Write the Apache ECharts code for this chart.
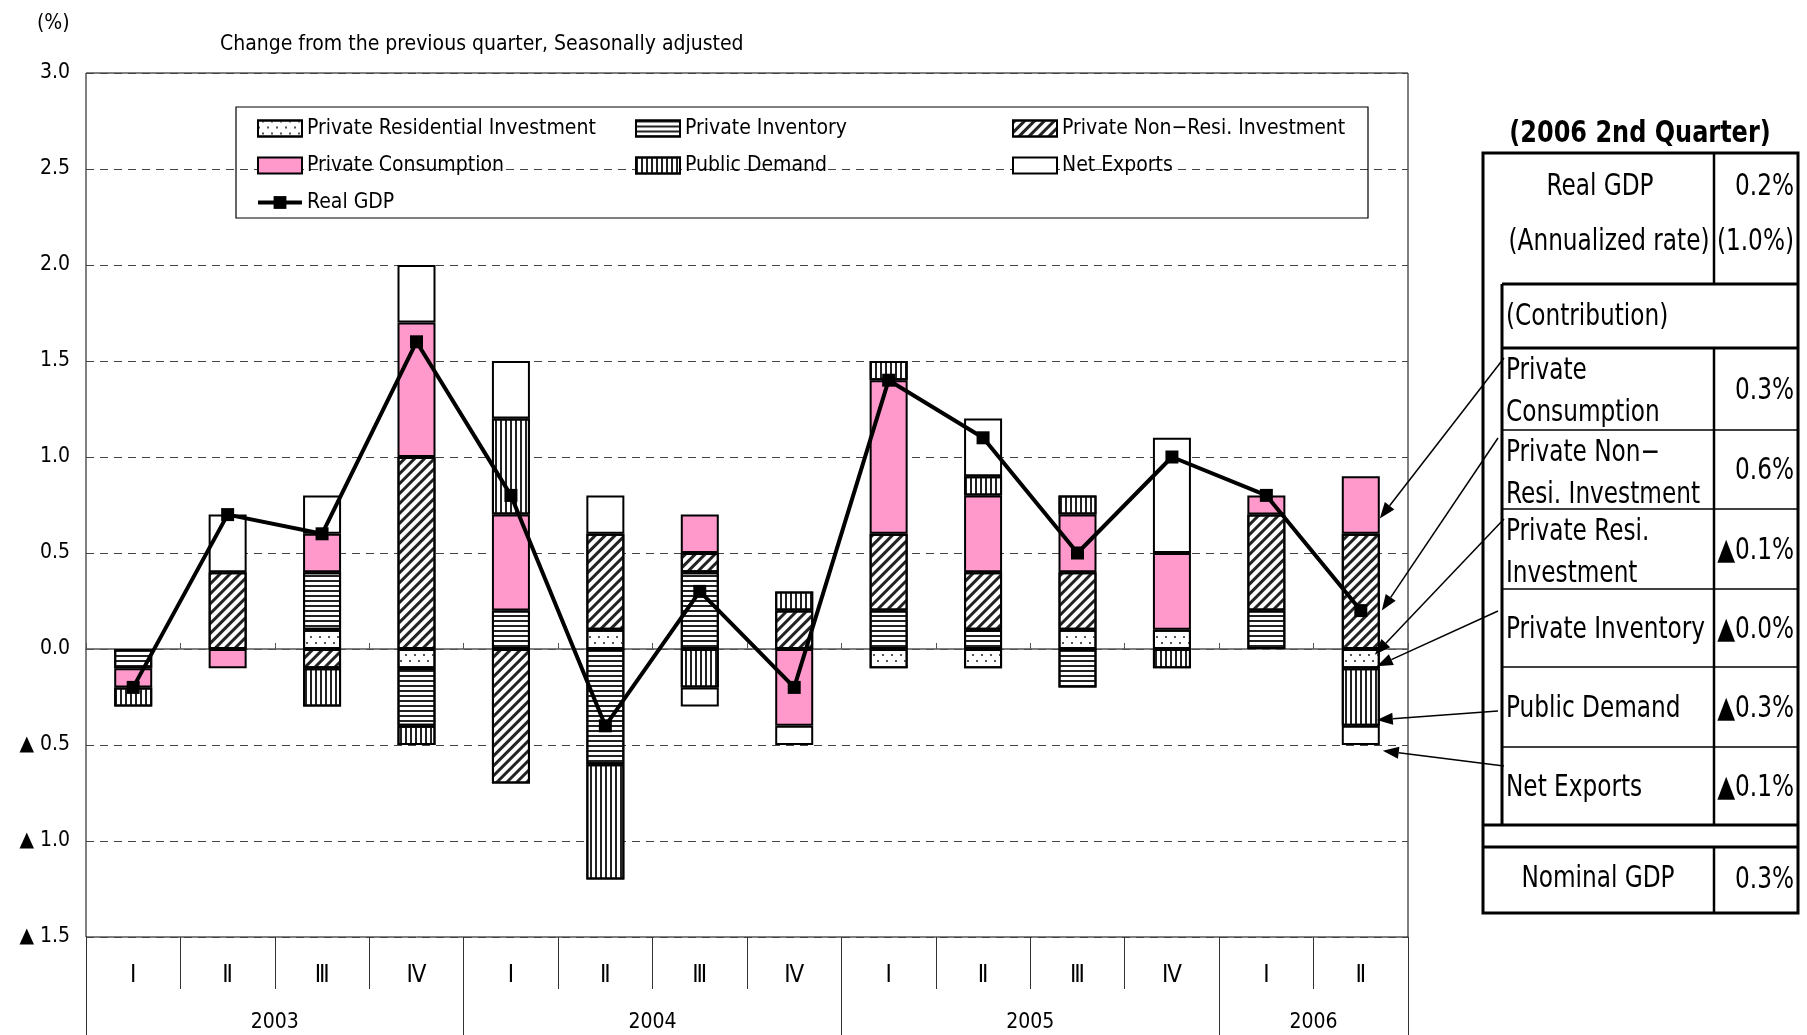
<!DOCTYPE html>
<html>
<head>
<meta charset="utf-8">
<script src="https://cdn.jsdelivr.net/npm/echarts@6.0.0/dist/echarts.min.js"></script>
<style>
html,body{margin:0;padding:0;background:#fff}
#main{width:1807px;height:1035px}
</style>
</head>
<body>
<div id="main"></div>
<script>
// quarters and years
var quarters = ['Ⅰ','Ⅱ','Ⅲ','Ⅳ','Ⅰ','Ⅱ','Ⅲ','Ⅳ','Ⅰ','Ⅱ','Ⅲ','Ⅳ','Ⅰ','Ⅱ'];
var years = ['2003','2004','2005','2006'];
var quartersPerYear = [4, 4, 4, 2];

// contributions to real GDP growth (%)
var resiInvestment    = [0, 0, 0.1, -0.1, 0, 0.1, 0, 0, -0.1, -0.1, 0.1, 0.1, 0, -0.1];
var privateInventory  = [-0.1, 0, 0.3, -0.3, 0.2, -0.6, 0.4, 0, 0.2, 0.1, -0.2, 0, 0.2, 0];
var nonResiInvestment = [0, 0.4, -0.1, 1.0, -0.7, 0.5, 0.1, 0.2, 0.4, 0.3, 0.3, 0, 0.5, 0.6];
var consumption       = [-0.1, -0.1, 0.2, 0.7, 0.5, 0, 0.2, -0.4, 0.8, 0.4, 0.3, 0.4, 0.1, 0.3];
var publicDemand      = [-0.1, 0, -0.2, -0.1, 0.5, -0.6, -0.2, 0.1, 0.1, 0.1, 0.1, -0.1, 0, -0.3];
var netExports        = [0, 0.3, 0.2, 0.3, 0.3, 0.2, -0.1, -0.1, 0, 0.3, 0, 0.6, 0, -0.1];
var realGDP           = [-0.2, 0.7, 0.6, 1.6, 0.8, -0.4, 0.3, -0.2, 1.4, 1.1, 0.5, 1.0, 0.8, 0.2];

// side table (2006 Q2)
var tableTitle = '(2006 2nd Quarter)';
var headLabels = ['Real GDP', '(Annualized rate)'];
var headValues = ['0.2%', '(1.0%)'];
var contribHeader = '(Contribution)';
var contribLabels = [['Private', 'Consumption'], ['Private Non−', 'Resi. Investment'], ['Private Resi.', 'Investment'], ['Private Inventory'], ['Public Demand'], ['Net Exports']];
var contribValues = ['0.3%', '0.6%', '▲0.1%', '▲0.0%', '▲0.3%', '▲0.1%'];
var nominalLabel = 'Nominal GDP';
var nominalValue = '0.3%';

var FF = "'Liberation Sans Narrow','DejaVu Sans Condensed','Liberation Sans',sans-serif";

var categories = [];
var yearBounds = [0], yearCenters = [];
(function () {
  var k = 0;
  for (var y = 0; y < years.length; y++) {
    yearCenters.push(k + quartersPerYear[y] / 2);
    for (var q = 0; q < quartersPerYear[y]; q++) {
      categories.push(years[y] + '|' + quarters[k]);
      k++;
    }
    yearBounds.push(k);
  }
})();

function nz(arr) {
  return arr.map(function (v) { return v === 0 ? '-' : v; });
}

function bar(name, data, color, decal) {
  var s = {
    name: name, type: 'bar', stack: 'gdp', data: nz(data), barWidth: 38,
    itemStyle: { color: color, borderColor: '#000', borderWidth: 2 },
    emphasis: { disabled: true }
  };
  if (decal) s.itemStyle.decal = decal;
  return s;
}

var dots = { symbol: 'rect', symbolSize: 1, color: '#555', dashArrayX: [[1.5, 6.5], [0, 4, 1.5, 2.5]], dashArrayY: [1.5, 3.5] };
var hStripes = { symbol: 'rect', symbolSize: 1, color: '#222', dashArrayX: [1, 0], dashArrayY: [2, 3] };
var vStripes = { symbol: 'rect', symbolSize: 1, color: '#222', dashArrayX: [2, 3], dashArrayY: [1, 0] };
var diag = { symbol: 'rect', symbolSize: 1, color: '#222', dashArrayX: [1, 0], dashArrayY: [3, 4], rotation: -Math.PI / 4 };

var chart = echarts.init(document.getElementById('main'));

var legendText = { fontFamily: FF, fontSize: 21, color: '#000' };
function legendCol(items, left) {
  return {
    data: items.map(function (n) {
      return n === 'Real GDP' ? { name: n, lineStyle: { width: 4, color: '#000' } } : { name: n, icon: 'rect' };
    }),
    left: left, top: 118, orient: 'vertical', padding: 0,
    itemWidth: 44, itemHeight: 16, itemGap: 16, itemTextGap: 4,
    textStyle: legendText, selectedMode: false
  };
}

chart.setOption({
  animation: false,
  textStyle: { fontFamily: FF },
  title: [
    { text: '(%)', left: 32, top: 8, textStyle: { fontFamily: FF, fontSize: 21, fontWeight: 'normal', color: '#000' } },
    { text: 'Change from the previous quarter, Seasonally adjusted', left: 215, top: 29, textStyle: { fontFamily: FF, fontSize: 21, fontWeight: 'normal', color: '#000' } }
  ],
  legend: [
    legendCol(['Private Residential Investment', 'Private Consumption', 'Real GDP'], 256),
    legendCol(['Private Inventory', 'Public Demand'], 635),
    legendCol(['Private Non−Resi. Investment', 'Net Exports'], 1012)
  ],
  grid: { left: 86, right: 399, top: 73, bottom: 98, show: true, borderColor: '#000', borderWidth: 1 },
  xAxis: [
    {
      type: 'category', data: categories, position: 'bottom',
      axisLine: { onZero: true, lineStyle: { color: '#555', width: 1.5 } },
      axisTick: { show: true, inside: true, length: 6, interval: 0, lineStyle: { color: '#555' } },
      axisLabel: { show: false }, splitLine: { show: false }
    },
    {
      type: 'category', data: categories, position: 'bottom',
      axisLine: { show: false, onZero: false },
      axisTick: { show: true, length: 52, interval: 0, lineStyle: { color: '#333' } },
      axisLabel: { interval: 0, margin: 27, fontSize: 24, color: '#000', fontFamily: FF,
        formatter: function (v) { return v.split('|')[1]; } },
      splitLine: { show: false }
    },
    {
      type: 'value', position: 'bottom', offset: 52, min: 0, max: categories.length,
      axisLine: { show: false, onZero: false },
      axisTick: { show: true, length: 60, customValues: yearBounds, lineStyle: { color: '#333' } },
      axisLabel: { customValues: yearCenters, margin: 23, fontSize: 21, color: '#000', fontFamily: FF,
        formatter: function (v) { return years[yearCenters.indexOf(v)]; } },
      splitLine: { show: false }
    }
  ],
  yAxis: {
    type: 'value', min: -1.5, max: 3, interval: 0.5,
    axisLine: { show: false }, axisTick: { show: false },
    splitLine: { show: true, lineStyle: { type: [8, 6], color: '#444', width: 1 } },
    axisLabel: { margin: 16, fontSize: 21, color: '#000', fontFamily: FF,
      formatter: function (v) { return v < 0 ? '▲ ' + Math.abs(v).toFixed(1) : v.toFixed(1); } }
  },
  series: [
    bar('Private Residential Investment', resiInvestment, '#fff', dots),
    bar('Private Inventory', privateInventory, '#fff', hStripes),
    bar('Private Non−Resi. Investment', nonResiInvestment, '#fff', diag),
    bar('Private Consumption', consumption, '#FF99CC', null),
    bar('Public Demand', publicDemand, '#fff', vStripes),
    bar('Net Exports', netExports, '#fff', null),
    {
      name: 'Real GDP', type: 'line', data: realGDP, z: 10,
      symbol: 'rect', symbolSize: 13,
      lineStyle: { color: '#000', width: 4 }, itemStyle: { color: '#000' },
      emphasis: { disabled: true }
    }
  ]
});

// side table and arrows
(function () {
  var g = [];
  var X0 = 1483, X1 = 1798, XD = 1714, XI = 1502;
  var rowY = [348, 430, 509, 589, 667, 747, 825];
  var SX = 0.86;
  function line(x1, y1, x2, y2, w) {
    g.push({ type: 'line', shape: { x1: x1, y1: y1, x2: x2, y2: y2 }, style: { stroke: '#000', lineWidth: w }, z: 20 });
  }
  function text(t, x, y, align, size, weight) {
    g.push({ type: 'text', x: x, y: y, scaleX: SX, z: 21,
      style: { text: t, x: 0, y: 0, fill: '#000', font: (weight || 'normal') + ' ' + size + 'px ' + FF, align: align, verticalAlign: 'middle' } });
  }
  // legend frame
  g.push({ type: 'rect', shape: { x: 236, y: 107, width: 1132, height: 111 }, style: { fill: null, stroke: '#000', lineWidth: 1.2 }, z: 1 });

  text(tableTitle, 1640, 134, 'center', 31, 'bold');

  g.push({ type: 'rect', shape: { x: X0, y: 153, width: X1 - X0, height: 913 - 153 }, style: { fill: '#fff', stroke: '#000', lineWidth: 3 }, z: 19 });
  line(XI, 284, X1, 284, 3);
  line(XI, 348, X1, 348, 3);
  line(XI, 284, XI, 825, 3);
  for (var i = 1; i < rowY.length - 1; i++) line(XI, rowY[i], X1, rowY[i], 1.5);
  line(X0, 825, X1, 825, 3);
  line(X0, 847, X1, 847, 3);
  line(XD, 153, XD, 284, 2.5);
  line(XD, 348, XD, 825, 2.5);
  line(XD, 847, XD, 913, 2.5);

  text(headLabels[0], 1600, 187, 'center', 30);
  text(headLabels[1], 1609, 242, 'center', 30);
  text(headValues[0], 1794, 187, 'right', 30);
  text(headValues[1], 1794, 242, 'right', 30);
  text(contribHeader, 1506, 317, 'left', 30);
  for (var r = 0; r < contribLabels.length; r++) {
    var top = rowY[r], bot = rowY[r + 1], mid = (top + bot) / 2;
    var lab = contribLabels[r];
    if (lab.length === 2) {
      text(lab[0], 1506, top + 23, 'left', 30);
      text(lab[1], 1506, top + 65, 'left', 30);
    } else {
      text(lab[0], 1506, mid + 2, 'left', 30);
    }
    text(contribValues[r], 1794, mid + 2, 'right', 30);
  }
  text(nominalLabel, 1598, 879, 'center', 30);
  text(nominalValue, 1794, 880, 'right', 30);

  // arrows from the table to the latest bar
  var last = categories.length - 1;
  var starts = [[1504, 358], [1498, 438], [1504, 519], [1498, 611], [1498, 711], [1504, 766]];
  var tipVals = [0.68, 0.2, -0.03, -0.09, -0.37, -0.53];
  var tipDx = [19, 21, 14, 16, 16, 22];
  for (var a = 0; a < starts.length; a++) {
    var p = chart.convertToPixel({ xAxisIndex: 0, yAxisIndex: 0 }, [last, tipVals[a]]);
    var tx = p[0] + tipDx[a], ty = p[1];
    var sx = starts[a][0], sy = starts[a][1];
    var dx = tx - sx, dy = ty - sy, len = Math.sqrt(dx * dx + dy * dy);
    var ux = dx / len, uy = dy / len;
    var bx = tx - ux * 16, by = ty - uy * 16;
    line(sx, sy, bx, by, 1.5);
    g.push({ type: 'polygon', z: 20, shape: { points: [[tx, ty], [bx - uy * 6, by + ux * 6], [bx + uy * 6, by - ux * 6]] }, style: { fill: '#000' } });
  }
  chart.setOption({ graphic: g });
})();
</script>
</body>
</html>
